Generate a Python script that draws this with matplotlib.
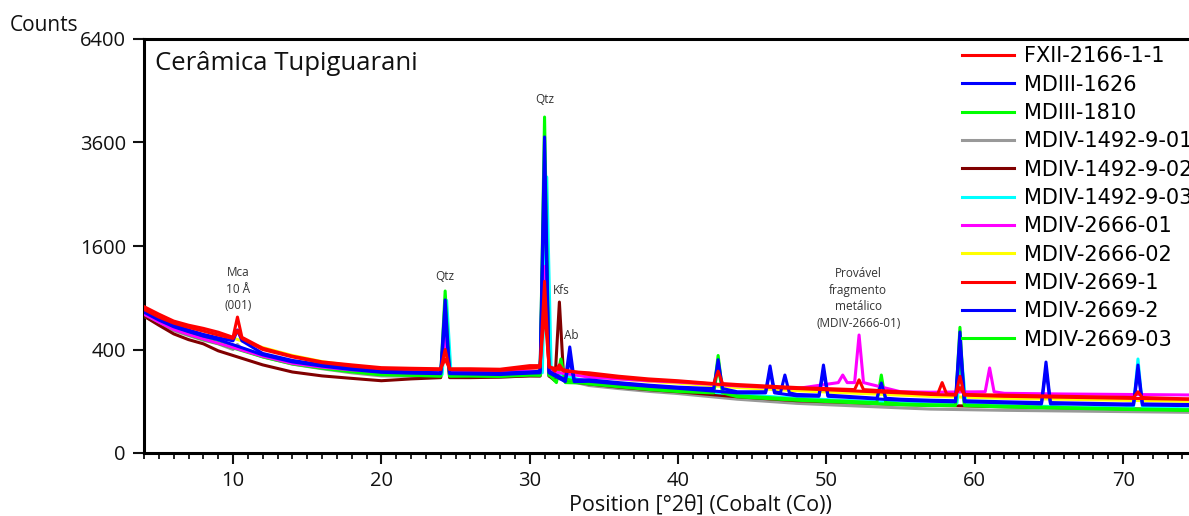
import matplotlib
matplotlib.use("Agg")
import matplotlib.pyplot as plt
import numpy as np
from matplotlib.ticker import MultipleLocator

plt.rcParams['font.family'] = ['Open Sans', 'DejaVu Sans']

# 2theta grid for the background of every pattern (deg, Co K-alpha)
grid = [4, 5, 6, 7, 8, 9, 12, 14, 16, 18, 20, 22, 26, 28, 30, 34, 36, 38, 40,
        44, 48, 55, 57, 62, 66, 68, 70, 74, 76, 80]

# background counts, one list per sample
bg_fxii = [800, 720, 650, 610, 580, 545, 410, 350, 310, 290, 272, 268, 265, 262, 285,
           240, 220, 205, 195, 175, 160, 140, 132, 125, 120, 118, 116, 110, 108, 105]
bg_md1626 = [760, 680, 610, 565, 525, 495, 370, 320, 290, 268, 250, 245, 240, 238, 245,
             200, 185, 172, 162, 140, 128, 108, 104, 98, 94, 92, 90, 88, 87, 85]
bg_md1810 = [730, 650, 580, 530, 490, 455, 350, 300, 272, 250, 232, 228, 224, 222, 230,
             182, 168, 155, 145, 122, 108, 90, 87, 82, 77, 75, 73, 70, 69, 67]
bg_1492_01 = [700, 620, 560, 515, 475, 445, 345, 295, 265, 240, 222, 220, 218, 216, 222,
              170, 155, 142, 132, 108, 92, 76, 72, 68, 66, 65, 64, 62, 61, 60]
bg_1492_02 = [700, 610, 530, 480, 445, 390, 290, 245, 222, 208, 195, 205, 212, 215, 222,
              178, 162, 150, 140, 118, 102, 88, 85, 80, 76, 75, 73, 70, 69, 68]
bg_1492_03 = [740, 660, 590, 545, 505, 470, 360, 310, 280, 258, 240, 236, 232, 230, 238,
              190, 175, 162, 152, 128, 112, 94, 90, 84, 80, 78, 76, 73, 72, 70]
bg_2666_01 = [720, 640, 570, 525, 485, 450, 350, 300, 275, 258, 248, 245, 245, 245, 252,
              215, 205, 195, 188, 168, 155, 140, 138, 133, 130, 129, 128, 126, 125, 124]
bg_2666_02 = [770, 700, 640, 600, 570, 535, 415, 355, 312, 285, 262, 258, 255, 252, 262,
              222, 205, 192, 182, 160, 145, 125, 120, 112, 108, 106, 104, 100, 99, 97]
bg_2669_1 = [770, 690, 630, 590, 555, 520, 400, 345, 305, 282, 265, 262, 258, 255, 270,
             230, 212, 198, 190, 170, 155, 135, 128, 120, 116, 114, 112, 108, 106, 103]
bg_2669_2 = [740, 660, 595, 550, 510, 480, 360, 310, 282, 260, 243, 238, 233, 230, 238,
             192, 178, 166, 156, 135, 122, 104, 100, 94, 90, 88, 86, 84, 83, 82]
bg_2669_03 = [720, 640, 572, 522, 482, 448, 345, 296, 268, 246, 228, 225, 221, 219, 226,
              178, 164, 151, 141, 118, 104, 87, 84, 79, 75, 73, 71, 68, 67, 66]

# reflections: (2theta, base counts, top counts)
pk_fxii = [(10.3, 500, 690), (24.3, 265, 330), (31.0, 285, 770), (32.0, 250, 290),
           (42.7, 180, 250), (52.2, 150, 200), (57.8, 130, 185), (59.0, 128, 160),
           (71.0, 115, 140)]
pk_md1626 = [(10.3, 470, 565), (24.3, 240, 875), (31.0, 250, 3730), (32.7, 200, 420),
             (42.7, 155, 325), (46.2, 140, 283), (47.2, 135, 227), (49.8, 125, 289),
             (53.7, 112, 183), (59.0, 102, 547), (64.8, 95, 309), (71.0, 90, 289)]
pk_md1810 = [(24.3, 225, 980), (31.0, 230, 4215), (32.1, 185, 330), (42.7, 140, 355),
             (53.7, 95, 227), (59.0, 86, 590)]
pk_1492_01 = [(10.3, 400, 440), (24.3, 215, 560), (31.0, 220, 1900)]
pk_1492_02 = [(24.3, 212, 590), (31.0, 222, 2260), (32.0, 195, 851)]
pk_1492_03 = [(24.4, 230, 870), (31.15, 240, 2845), (59.1, 92, 344), (71.0, 80, 330)]
pk_2666_01 = [(24.3, 245, 500), (31.0, 250, 1300), (51.1, 185, 227), (52.2, 185, 520),
              (61.0, 140, 270)]
pk_2666_02 = [(24.3, 255, 500), (31.0, 265, 1500)]
pk_2669_1 = [(10.3, 490, 560), (24.3, 260, 400), (31.0, 275, 1100), (59.0, 125, 220)]
pk_2669_2 = [(24.3, 235, 700), (31.0, 240, 2900), (32.7, 190, 330), (46.2, 135, 250),
             (49.8, 120, 250), (59.0, 98, 450), (64.8, 90, 260), (71.0, 86, 250)]
pk_2669_03 = [(24.3, 220, 750), (31.0, 225, 3200), (42.7, 135, 280), (59.0, 84, 420)]

names = ["FXII-2166-1-1", "MDIII-1626", "MDIII-1810", "MDIV-1492-9-01",
         "MDIV-1492-9-02", "MDIV-1492-9-03", "MDIV-2666-01", "MDIV-2666-02",
         "MDIV-2669-1", "MDIV-2669-2", "MDIV-2669-03"]
backgrounds = [bg_fxii, bg_md1626, bg_md1810, bg_1492_01, bg_1492_02, bg_1492_03,
               bg_2666_01, bg_2666_02, bg_2669_1, bg_2669_2, bg_2669_03]
peaks = [pk_fxii, pk_md1626, pk_md1810, pk_1492_01, pk_1492_02, pk_1492_03,
         pk_2666_01, pk_2666_02, pk_2669_1, pk_2669_2, pk_2669_03]
colors = ["#ff0000", "#0000ff", "#00ff00", "#999999", "#800000", "#00ffff",
          "#ff00ff", "#ffff00", "#ff0000", "#0000ff", "#00ff00"]
zorders = [11, 9, 7, 3, 4, 5, 8, 2, 10, 9, 6]

# labels on the reflections: (text, 2theta, counts)
notes = [("Mca\n10 Å\n(001)", 10.35, 740), ("Qtz", 24.3, 1080), ("Qtz", 31.0, 4500),
         ("Kfs", 32.1, 910), ("Ab", 32.8, 460),
         ("Provável\nfragmento\nmetálico\n(MDIV-2666-01)", 52.15, 565)]


def trace(bg, pk, hw=0.3):
	xs = list(grid)
	ys = list(bg)
	for pos, base, top in pk:
		xs += [pos - hw, pos, pos + hw]
		ys += [base, top, base]
	order = np.argsort(xs, kind="stable")
	return np.array(xs)[order], np.array(ys)[order]


fig = plt.figure(figsize=(11.89, 5.16), dpi=100)
ax = fig.add_axes([144 / 1189, 63 / 516, 1045 / 1189, 414 / 516])

handles = []
for n, name in enumerate(names):
	x, y = trace(backgrounds[n], peaks[n])
	line, = ax.plot(x, y, color=colors[n], lw=2.2, zorder=zorders[n], label=name)
	handles.append(line)

ax.set_yscale('function', functions=(lambda v: np.sqrt(np.clip(v, 0, None)), np.square))
ax.set_ylim(0, 6400)
ax.set_yticks([0, 400, 1600, 3600, 6400])
ax.set_xlim(4, 74.44)
ax.xaxis.set_major_locator(MultipleLocator(10))
ax.xaxis.set_minor_locator(MultipleLocator(1))

for side in ['left', 'bottom', 'top']:
	ax.spines[side].set_linewidth(2.2)
ax.spines['right'].set_visible(False)
ax.tick_params(axis='both', which='major', direction='out', length=8, width=1.5,
               labelsize=14.5, pad=5, colors='#111111')
ax.tick_params(axis='x', which='minor', direction='out', length=4, width=1.2)

ax.set_xlabel("Position [°2θ] (Cobalt (Co))", fontsize=15.5, color='#111111')
ax.xaxis.set_label_coords(0.532, -0.1)
fig.text(10 / 1189, 1 - 31 / 516, "Counts", fontsize=15, va='baseline', color='#111111')
ax.text(0.011, 0.97, "Cerâmica Tupiguarani", transform=ax.transAxes, fontsize=18.5,
        va='top', ha='left', color='#111111')

for text, xpos, ypos in notes:
	ax.text(xpos, ypos, text, fontsize=8.5, ha='center', va='bottom',
	        multialignment='center', linespacing=1.35, color='#333333', zorder=20)

leg = ax.legend(handles=handles, loc='upper left', frameon=False,
                bbox_to_anchor=(954 / 1189, 1 - 38 / 516), bbox_transform=fig.transFigure,
                prop={'family': 'DejaVu Sans', 'size': 15}, handlelength=2.5,
                handletextpad=0.45, labelspacing=0.4, borderaxespad=0, borderpad=0.4)
leg.set_zorder(30)

fig.savefig("out.png", dpi=100)
plt.close()
